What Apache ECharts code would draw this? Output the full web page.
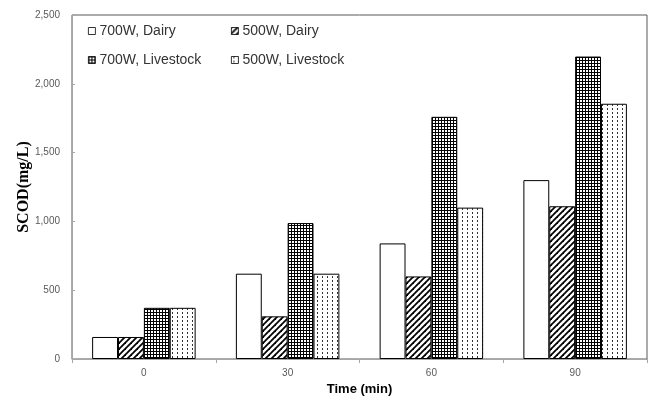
<!DOCTYPE html>
<html>
<head>
<meta charset="utf-8">
<script src="https://cdn.jsdelivr.net/npm/echarts@6/dist/echarts.min.js"></script>
<style>html,body{margin:0;padding:0;background:#fff}#c{width:654px;height:401px}</style>
</head>
<body>
<div id="c"></div>
<script>
const categories = ['0', '30', '60', '90'];
const seriesNames = ['700W, Dairy', '500W, Dairy', '700W, Livestock', '500W, Livestock'];
const dairy700 = [160, 620, 840, 1300];
const dairy500 = [160, 310, 600, 1110];
const livestock700 = [372, 988, 1760, 2198];
const livestock500 = [372, 620, 1100, 1855];
const yTicks = [0, 500, 1000, 1500, 2000, 2500];

function mk(w, h, draw) {
  const c = document.createElement('canvas');
  c.width = w; c.height = h;
  const g = c.getContext('2d');
  g.fillStyle = '#fff'; g.fillRect(0, 0, w, h);
  draw(g, w, h);
  return { image: c, repeat: 'repeat' };
}
const patWhite = '#ffffff';
const patDiag = mk(6, 6, (g, s) => {
  g.strokeStyle = '#000'; g.lineWidth = 1.8;
  for (let k = -1; k <= 1; k++) {
    g.beginPath(); g.moveTo(k * s - 1, s + 1); g.lineTo(k * s + s + 1, -1); g.stroke();
  }
});
const patGrid = mk(3, 3, (g) => {
  g.fillStyle = '#000'; g.fillRect(0, 0, 3, 1); g.fillRect(0, 0, 1, 3);
});
const patDot = mk(5, 4, (g) => {
  g.fillStyle = '#333'; g.fillRect(2, 0, 1, 2);
});
const fills = [patWhite, patDiag, patGrid, patDot];
const values = [dairy700, dairy500, livestock700, livestock500];

const chart = echarts.init(document.getElementById('c'), null, { renderer: 'canvas' });
const legendPos = [[88, 24], [231, 24], [88, 53], [231, 53]];
chart.setOption({
  animation: false,
  grid: { left: 72, top: 15, right: 7, bottom: 41, show: true, borderColor: '#595959', borderWidth: 1 },
  legend: seriesNames.map((n, i) => ({
    data: [n], left: legendPos[i][0], top: legendPos[i][1], padding: 0,
    itemWidth: 7, itemHeight: 7, itemGap: 0, icon: 'rect',
    itemStyle: { borderWidth: 0.8 },
    textStyle: { fontFamily: 'Liberation Sans', fontSize: 14, color: '#333', padding: [0, 0, 0, -1] }
  })),
  xAxis: {
    type: 'category', data: categories,
    axisLine: { lineStyle: { color: '#a6a6a6' } },
    axisTick: { show: true, alignWithLabel: false, length: 4, lineStyle: { color: '#a6a6a6' } },
    axisLabel: { color: '#595959', fontFamily: 'Liberation Sans', fontSize: 10, margin: 9 },
    name: 'Time (min)', nameLocation: 'middle', nameGap: 24, nameMoveOverlap: false,
    nameTextStyle: { fontFamily: 'Liberation Sans', fontWeight: 'bold', fontSize: 13, color: '#000' }
  },
  yAxis: {
    type: 'value', min: 0, max: 2500, interval: 500,
    axisLine: { show: true, lineStyle: { color: '#a6a6a6' } },
    axisTick: { show: true, inside: true, length: 3, lineStyle: { color: '#a6a6a6' } },
    splitLine: { show: false },
    axisLabel: {
      color: '#595959', fontFamily: 'Liberation Sans', fontSize: 10, margin: 12,
      formatter: v => yTicks.includes(v) ? v.toLocaleString('en-US') : ''
    },
    name: 'SCOD(mg/L)', nameLocation: 'middle', nameGap: 40, nameRotate: 90, nameMoveOverlap: false,
    nameTextStyle: { fontFamily: 'Liberation Serif', fontWeight: 'bold', fontSize: 16, color: '#000' }
  },
  series: seriesNames.map((n, i) => ({
    name: n, type: 'bar', data: values[i],
    barGap: '0%', barCategoryGap: '28%',
    itemStyle: { color: fills[i], borderColor: '#000', borderWidth: 1 }
  }))
});
</script>
</body>
</html>
